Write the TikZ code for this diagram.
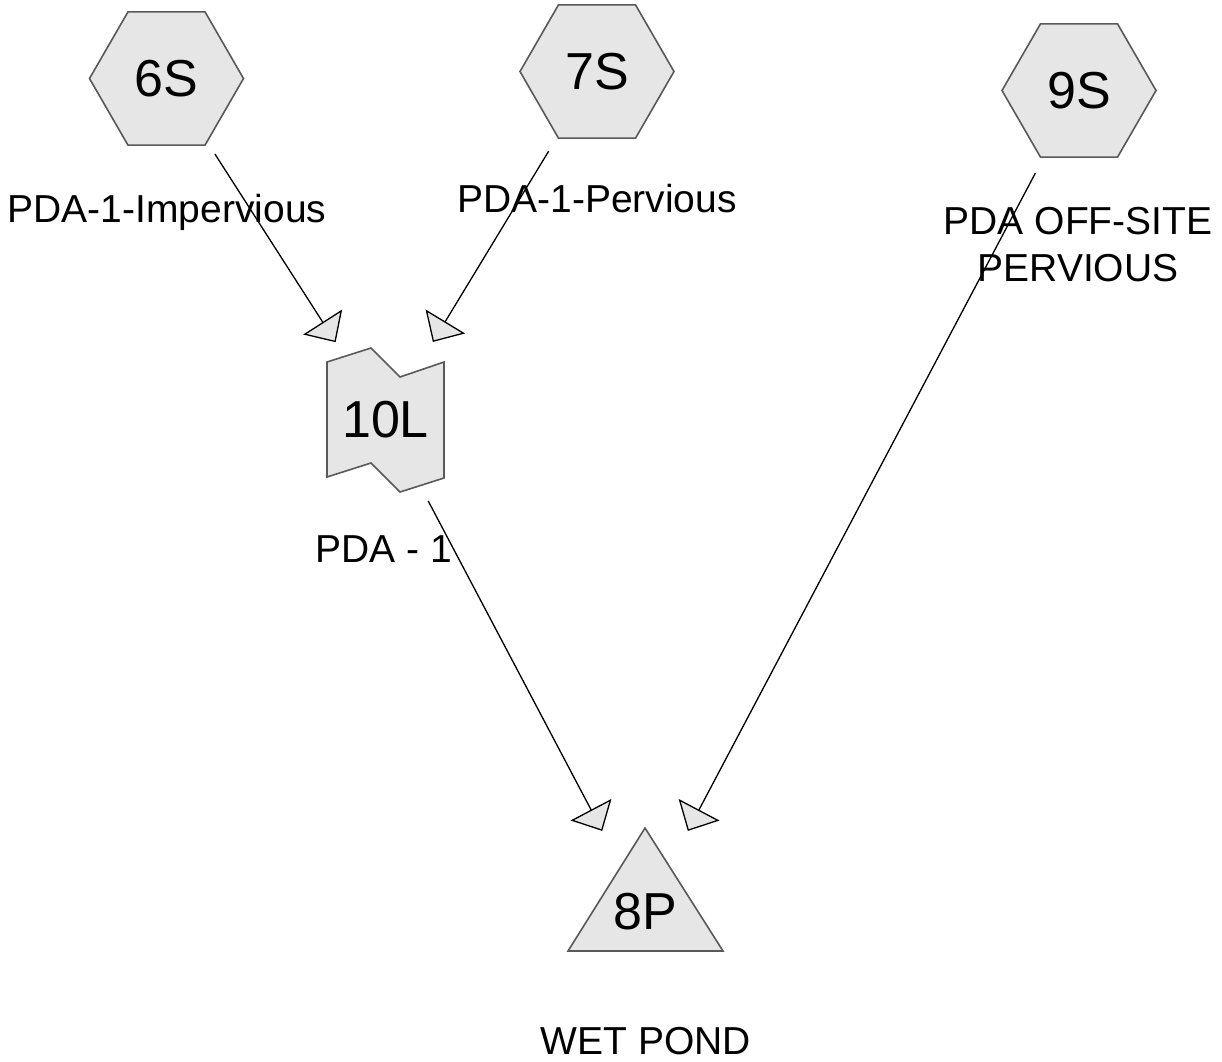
\documentclass[tikz,border=0pt]{standalone}
\usepackage{fontspec}
\setmainfont{Liberation Sans}
\usetikzlibrary{shapes.geometric,arrows.meta}
\definecolor{shapefill}{HTML}{E6E6E6}
\definecolor{shapeline}{HTML}{595959}
\begin{document}
\begin{tikzpicture}[x=1pt,y=-1pt,
  idx/.style={font=\fontsize{52}{60}\selectfont, inner sep=0pt},
  hexnode/.style={regular polygon, regular polygon sides=6, minimum size=154pt,
    draw=shapeline, fill=shapefill, line width=1.6pt, inner sep=0pt,
    font=\fontsize{52}{60}\selectfont},
  outline/.style={draw=shapeline, fill=shapefill, line width=1.6pt, line join=miter},
  lbl/.style={font=\fontsize{39}{47}\selectfont, inner sep=0pt, anchor=base, align=center},
  flow/.style={line width=1.3pt, draw=black,
    -{Triangle[length=24pt, width=46pt, fill=shapefill, line join=miter]}}
]
\useasboundingbox[fill=white] (0,0) rectangle (1222,1061);

% subcatchments
\node[hexnode] (6S) at (166.5,78.5) {6S};
\node[hexnode] (7S) at (597,71.5) {7S};
\node[hexnode] (9S) at (1079,90.5) {9S};

% link and pond outlines
\path[outline] (327,362) -- (371,348) -- (400,377) -- (444,362) -- (444,478)
  -- (400,492) -- (371,463) -- (327,477) -- cycle;
\node[idx] (10L) at (385.5,420) {10L};
\path[outline] (645,828) -- (723,951) -- (568,951) -- cycle;
\node[idx] (8P) at (645,912) {8P};

% labels (base of a two-line label is its last line)
\node[lbl] (l6) at (167,222) {PDA-1-Impervious};
\node[lbl] (l7) at (597,212) {PDA-1-Pervious};
\node[lbl] (l9) at (1078,281) {PDA OFF-SITE\\PERVIOUS};
\node[lbl] (l10) at (384,562) {PDA - 1};
\node[lbl] (l8) at (646,1054) {WET POND};

% flow connections
\draw[flow, shorten <=89.7pt, shorten >=92.4pt] (6S.center) -- (10L.center);
\draw[flow, shorten <=93.1pt, shorten >=91.3pt] (7S.center) -- (10L.center);
\draw[flow, shorten <=91.5pt, shorten >=91.7pt] (10L.center) -- (8P.center);
\draw[flow, shorten <=93.5pt, shorten >=91.7pt] (9S.center) -- (8P.center);
\end{tikzpicture}
\end{document}
